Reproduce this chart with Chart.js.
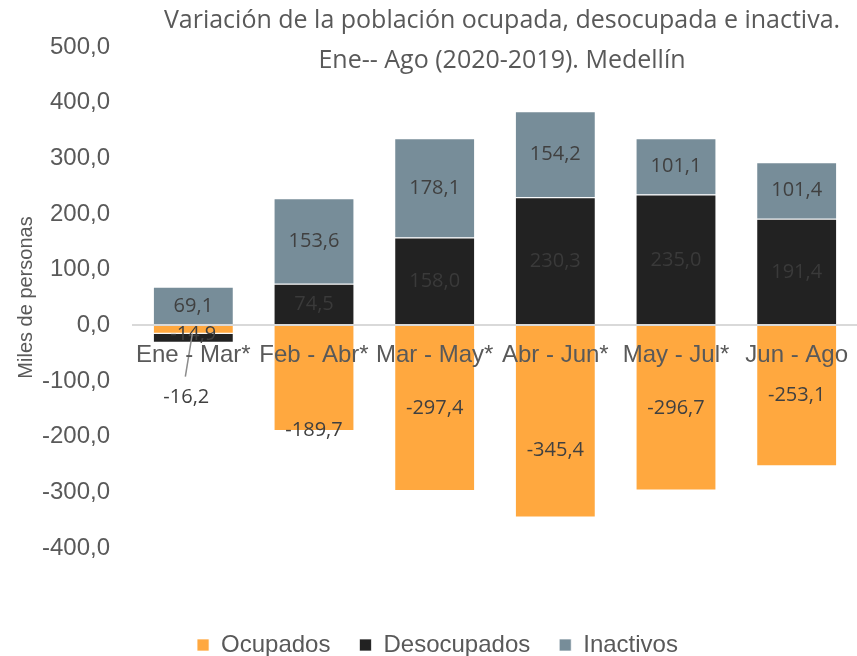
<!DOCTYPE html>
<html>
<head>
<meta charset="utf-8">
<script src="https://cdn.jsdelivr.net/npm/chart.js@4.4.1/dist/chart.umd.min.js"></script>
<style>
html,body{margin:0;padding:0;background:#fff;}
#wrap{width:857px;height:656px;position:relative;}
</style>
</head>
<body>
<div id="wrap"><canvas id="c" width="857" height="656"></canvas></div>
<script>
const categories = ['Ene - Mar*', 'Feb - Abr*', 'Mar - May*', 'Abr - Jun*', 'May - Jul*', 'Jun - Ago'];
const ocupados = [-14.9, -189.7, -297.4, -345.4, -296.7, -253.1];
const desocupados = [-16.2, 74.5, 158.0, 230.3, 235.0, 191.4];
const inactivos = [69.1, 153.6, 178.1, 154.2, 101.1, 101.4];
const seriesNames = ['Ocupados', 'Desocupados', 'Inactivos'];
const titleLines = ['Variación de la población ocupada, desocupada e inactiva.', 'Ene-- Ago (2020-2019). Medellín'];
const yTitle = 'Miles de personas';

const fmt = v => v.toFixed(1).replace('.', ',');

const labelPlugin = {
  id: 'barLabels',
  afterDatasetsDraw(chart) {
    const ctx = chart.ctx;
    ctx.save();
    ctx.font = '20px "Open Sans"';
    ctx.textAlign = 'center';
    ctx.textBaseline = 'middle';
    chart.data.datasets.forEach((ds, di) => {
      const meta = chart.getDatasetMeta(di);
      meta.data.forEach((bar, i) => {
        const v = ds.data[i];
        const p = bar.getProps(['x', 'y', 'base'], true);
        let x = p.x, y = (p.y + p.base) / 2;
        ctx.fillStyle = di === 1 ? '#3a3a3a' : '#404040';
        if (di === 1 && v < 0) {
          // outside label with leader line
          ctx.strokeStyle = '#8c8c8c';
          ctx.lineWidth = 1.5;
          ctx.beginPath();
          ctx.moveTo(x - 1, p.y - 9);
          ctx.lineTo(x - 8, p.y + 34);
          ctx.stroke();
          ctx.fillStyle = '#404040';
          ctx.fillText(fmt(v), x - 7, p.y + 55);
          return;
        }
        if (di === 0 && i === 1) y = p.y - 1;
        if (di === 0 && i === 3) y = y + 29;
        if (di === 0 && i === 0) y = y + 5;
        ctx.fillText(fmt(v), x, y);
      });
    });
    ctx.restore();
  }
};

const titlePlugin = {
  id: 'customTitle',
  afterDraw(chart) {
    const ctx = chart.ctx;
    ctx.save();
    ctx.font = '25px "Open Sans"';
    ctx.fillStyle = '#595959';
    ctx.textAlign = 'center';
    ctx.textBaseline = 'alphabetic';
    ctx.fillText(titleLines[0], 502, 28);
    ctx.fillText(titleLines[1], 502, 68);
    ctx.restore();
  }
};

new Chart(document.getElementById('c'), {
  type: 'bar',
  data: {
    labels: categories,
    datasets: [
      { label: seriesNames[0], data: ocupados, backgroundColor: '#FFA83F', borderColor: 'rgba(255,255,255,0.7)', borderWidth: 1 },
      { label: seriesNames[1], data: desocupados, backgroundColor: '#222222', borderColor: 'rgba(255,255,255,0.7)', borderWidth: 1 },
      { label: seriesNames[2], data: inactivos, backgroundColor: '#778D99', borderColor: 'rgba(255,255,255,0.7)', borderWidth: 1 }
    ]
  },
  options: {
    responsive: false,
    animation: false,
    layout: { padding: { top: 47, right: -4, bottom: -11, left: 14 } },
    datasets: { bar: { categoryPercentage: 1.0, barPercentage: 0.67 } },
    plugins: {
      legend: {
        position: 'bottom',
        title: { display: true, text: '', font: { size: 10 }, padding: { top: 44, bottom: 0 } },
        labels: {
          font: { family: 'Liberation Sans, Arial', size: 24 },
          color: '#595959',
          boxWidth: 12, boxHeight: 12,
          padding: 29,
          useBorderRadius: false
        }
      },
      tooltip: { enabled: false },
      title: { display: false }
    },
    scales: {
      x: {
        stacked: true,
        position: { y: 0 },
        afterFit: s => { s.paddingLeft = 0; s.paddingRight = 0; },
        grid: { display: false, drawTicks: false },
        border: { display: true, color: '#d9d9d9', width: 2, z: 1 },
        ticks: { z: 2, color: '#595959', font: { family: 'Liberation Sans, Arial', size: 24 }, padding: 16, maxRotation: 0, autoSkip: false }
      },
      y: {
        stacked: true,
        min: -400, max: 500,
        afterFit: s => { s.width = 119; },
        grid: { display: false, drawTicks: false },
        border: { display: false },
        ticks: { stepSize: 100, color: '#595959', font: { family: 'Liberation Sans, Arial', size: 24 }, padding: 23, callback: v => fmt(v) },
        title: { display: true, text: yTitle, color: '#595959', font: { family: 'Liberation Sans, Arial', size: 20 }, padding: { top: 0, bottom: 0 } }
      }
    }
  },
  plugins: [labelPlugin, titlePlugin]
});
</script>
</body>
</html>
